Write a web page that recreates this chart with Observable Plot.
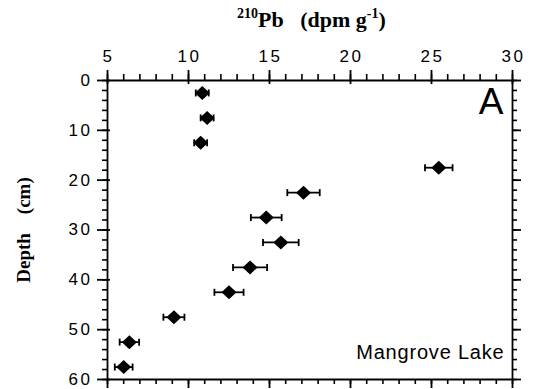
<!DOCTYPE html>
<html><head><meta charset="utf-8">
<script src="https://cdn.jsdelivr.net/npm/d3@7"></script>
<script src="https://cdn.jsdelivr.net/npm/@observablehq/plot@0.6"></script>
<style>
body{margin:0;background:#fff}
</style>
</head><body><div id="chart"></div>
<script>
// ---- data ----
const depthCm  = [2.5, 7.5, 12.5, 17.5, 22.5, 27.5, 32.5, 37.5, 42.5, 47.5, 52.5, 57.5];
const pb210    = [10.85, 11.15, 10.75, 25.45, 17.1, 14.8, 15.7, 13.8, 12.5, 9.1, 6.35, 6.0];
const pb210Err = [0.4, 0.4, 0.4, 0.85, 1.0, 0.95, 1.1, 1.05, 0.9, 0.65, 0.6, 0.55];
const xTickValues = [5, 10, 15, 20, 25, 30];
const yTickValues = [0, 10, 20, 30, 40, 50, 60];
const xMinorTicks = d3.range(5, 30.5, 1);
const yMinorTicks = d3.range(0, 60.5, 2);
const xDomain = [5, 30];
const yDomain = [0, 60];
const panelLabel = "A";
const siteLabel = "Mangrove Lake";
const yTitle = "Depth\u00a0\u00a0\u00a0\u00a0(cm)";
const titleParts = ["210", "Pb\u00a0\u00a0\u00a0(dpm g", "-1", ")"];

const data = depthCm.map((d, i) => ({depth: d, pb: pb210[i], lo: pb210[i] - pb210Err[i], hi: pb210[i] + pb210Err[i]}));

const W = 533, H = 389, mt = 80, mb = 10, ml = 107, mr = 21;
const fh = H - mt - mb, fw = W - ml - mr;
// data units per pixel, used only to give tick lengths in pixels
const ux = (xDomain[1] - xDomain[0]) / fw, uy = (yDomain[1] - yDomain[0]) / fh;
const [x0, x1] = xDomain, [y0, y1] = yDomain;

const topMajor = xTickValues.map(x => ({x, a: y0 - 10 * uy, b: y0 + 4 * uy}));
const topMinor = xMinorTicks.map(x => ({x, a: y0 - 6 * uy, b: y0}));
const botMajor = xTickValues.map(x => ({x, a: y1, b: y1 + 9 * uy}));
const botMinor = xMinorTicks.map(x => ({x, a: y1, b: y1 + 5 * uy}));
const leftMajor = yTickValues.map(y => ({y, a: x0 - 10 * ux, b: x0 + 3 * ux}));
const leftMinor = yMinorTicks.map(y => ({y, a: x0 - 5 * ux, b: x0}));
const rightMajor = yTickValues.map(y => ({y, a: x1, b: x1 + 9 * ux}));
const rightMinor = yMinorTicks.map(y => ({y, a: x1, b: x1 + 5 * ux}));
const frameV = [{x: x0, a: y0, b: y1}, {x: x1, a: y0, b: y1}];
const frameH = [{y: y0, a: x0, b: x1}, {y: y1, a: x0, b: x1}];

const sans = "Liberation Sans, Arial, Helvetica, sans-serif";
const serif = "Liberation Serif, Times New Roman, serif";
const diamond = {draw(ctx) {ctx.moveTo(0, -7); ctx.lineTo(7.5, 0); ctx.lineTo(0, 7); ctx.lineTo(-7.5, 0); ctx.closePath();}};
const cap = {draw(ctx) {ctx.moveTo(0, -3.5); ctx.lineTo(0, 3.5);}};
const sw = 1.8, msw = 1.6;
const vx = (arr, w) => Plot.ruleX(arr, {x: "x", y1: "a", y2: "b", stroke: "black", strokeWidth: w});
const hy = (arr, w) => Plot.ruleY(arr, {y: "y", x1: "a", x2: "b", stroke: "black", strokeWidth: w});

const svg = Plot.plot({
  width: W, height: H,
  marginTop: mt, marginBottom: mb, marginLeft: ml, marginRight: mr,
  style: {background: "white", color: "black", overflow: "visible"},
  x: {domain: xDomain, axis: null},
  y: {domain: yDomain, reverse: true, axis: null},
  marks: [
    vx(frameV, sw), hy(frameH, sw),
    vx(topMinor, msw), vx(topMajor, sw),
    vx(botMinor, msw), vx(botMajor, sw),
    hy(leftMinor, msw), hy(leftMajor, sw),
    hy(rightMinor, msw), hy(rightMajor, sw),
    // tick labels
    Plot.text(xTickValues, {x: d => d, frameAnchor: "top", dy: -19, dx: 1, lineAnchor: "bottom", text: d => String(d), fontSize: 17, fontFamily: sans, fill: "black"}),
    Plot.text(yTickValues, {y: d => d, frameAnchor: "left", dx: -15, textAnchor: "end", text: d => String(d), fontSize: 17, fontFamily: sans, fill: "black"}),
    // y title
    Plot.text([yTitle], {frameAnchor: "left", dx: -84, rotate: -90, textAnchor: "middle", text: d => d, fontSize: 19, fontWeight: "bold", fontFamily: serif, fill: "black"}),
    // panel labels
    Plot.text([panelLabel], {frameAnchor: "top-right", dx: -9, dy: 7, lineAnchor: "top", textAnchor: "end", text: d => d, fontSize: 37, fontFamily: sans, fill: "black"}),
    Plot.text([siteLabel], {frameAnchor: "bottom-right", dx: -8, dy: -21, lineAnchor: "bottom", textAnchor: "end", text: d => d, fontSize: 20, fontFamily: sans, fill: "black"}),
    // error bars
    Plot.ruleY(data, {y: "depth", x1: "lo", x2: "hi", stroke: "black", strokeWidth: 1.8}),
    Plot.dot(data, {x: "lo", y: "depth", symbol: cap, stroke: "black", strokeWidth: 1.8, fill: "none", r: 3}),
    Plot.dot(data, {x: "hi", y: "depth", symbol: cap, stroke: "black", strokeWidth: 1.8, fill: "none", r: 3}),
    // diamonds
    Plot.dot(data, {x: "pb", y: "depth", symbol: diamond, fill: "black", stroke: "none", r: 7})
  ]
});

d3.select(svg).selectAll("text").each(function() {
  const s = this.textContent;
  if (/^\d+$/.test(s)) d3.select(this).attr("letter-spacing", "2.5px");
  if (s === siteLabel) d3.select(this).attr("letter-spacing", "0.8px");
});

const t = d3.select(svg).append("text")
  .attr("x", 237).attr("y", 27).attr("text-anchor", "start")
  .attr("font-family", serif).attr("font-weight", "bold").attr("font-size", 22).attr("fill", "black");
t.append("tspan").attr("font-size", 14).attr("dy", -9).text(titleParts[0]);
t.append("tspan").attr("dy", 9).text(titleParts[1]);
t.append("tspan").attr("font-size", 14).attr("dy", -9).text(titleParts[2]);
t.append("tspan").attr("dy", 9).text(titleParts[3]);

document.getElementById("chart").appendChild(svg);
</script>
</body></html>
